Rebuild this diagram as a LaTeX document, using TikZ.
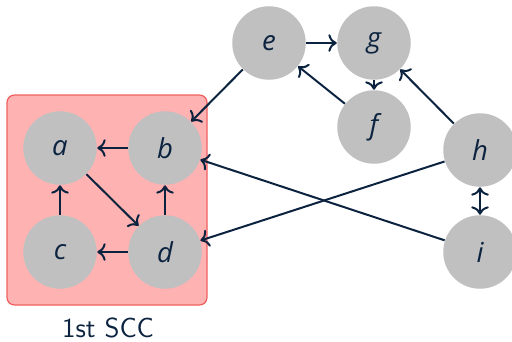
\documentclass[tikz,border=0pt]{standalone}
\usepackage{fontspec}
\newfontfamily\vertexfont{Open Sans}
\usetikzlibrary{arrows.meta}
\definecolor{inkblue}{RGB}{12,35,64}
\definecolor{sccfill}{RGB}{255,178,178}
\definecolor{sccline}{RGB}{238,96,96}
\definecolor{vertexgray}{RGB}{192,192,192}
\begin{document}
\begin{tikzpicture}[x=0.4pt,y=-0.4pt,
  vertex/.style={circle,fill=vertexgray,draw=none,minimum size=29.4pt,inner sep=0pt,
    text=inkblue,font=\vertexfont\itshape\fontsize{11}{13}\selectfont},
  edge/.style={->,draw=inkblue,line width=0.8pt},
  sccbox/.style={fill=sccfill,draw=sccline,line width=0.5pt,rounded corners=3pt}]
\useasboundingbox (0,0) rectangle (512,341);
% strongly connected component
\path[sccbox] (7,95) rectangle (207,305);
\node[text=inkblue,font=\sffamily\fontsize{11}{13}\selectfont] (scclabel) at (108,328) {1st SCC};
% vertices
\node[vertex] (a) at (60,148) {a};
\node[vertex] (b) at (165,148) {b};
\node[vertex] (c) at (60,252) {c};
\node[vertex] (d) at (165,252) {d};
\node[vertex] (e) at (269,43) {e};
\node[vertex] (g) at (374,43) {g};
\node[vertex] (f) at (374,127) {f};
\node[vertex] (h) at (480,150) {h};
\node[vertex] (i) at (480,252) {i};
% edges
\draw[edge] (b) -- (a);
\draw[edge] (a) -- (d);
\draw[edge] (c) -- (a);
\draw[edge] (d) -- (c);
\draw[edge] (d) -- (b);
\draw[edge] (e) -- (g);
\draw[edge] (g) -- (f);
\draw[edge] (f) -- (e);
\draw[edge] (h) -- (g);
\draw[edge,<->] (h) -- (i);
\draw[edge] (e) -- (b);
\draw[edge] (i) -- (b);
\draw[edge] (h) -- (d);
\end{tikzpicture}
\end{document}
